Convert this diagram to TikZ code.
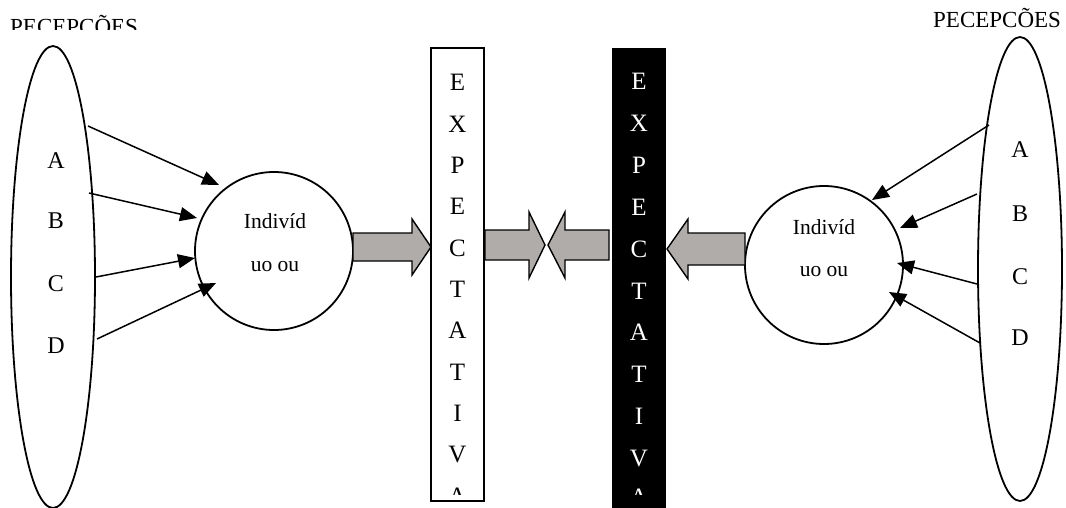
\documentclass[tikz,border=0pt]{standalone}
\usepackage{fontspec}
\setmainfont{Liberation Serif}
\usetikzlibrary{arrows.meta,calc,shapes.geometric}
\definecolor{arrgray}{RGB}{176,172,170}
\begin{document}
\begin{tikzpicture}[x=1pt,y=-1pt,
  lbl/.style={inner sep=0pt,anchor=base,font=\fontsize{24}{24}\selectfont},
  vlet/.style={inner sep=0pt,anchor=base,font=\fontsize{25}{25}\selectfont},
  ctext/.style={inner sep=0pt,anchor=base,font=\fontsize{21.5}{21.5}\selectfont},
  ttl/.style={inner sep=0pt,anchor=base west,font=\fontsize{23}{23}\selectfont},
  feed/.style={line width=1.5pt,-{Triangle[length=17pt,width=14pt]}},
  blockarr/.style={draw=black,line width=1.4pt,fill=arrgray,line join=miter},
  outl/.style={line width=1.8pt},
  oval/.style={draw,ellipse,outl,inner sep=0pt,minimum width=84pt,minimum height=462pt},
  ring/.style={draw,circle,outl,inner sep=0pt,minimum size=158pt}]
\useasboundingbox (0,0) rectangle (1066,508);
\begin{scope}
\clip (0,0) rectangle (1066,508);
% titles
\begin{scope}
\clip (0,0) rectangle (300,30);
\node[ttl] (tL) at (10,35) {PECEPCÕES};
\end{scope}
\node[ttl] (tR) at (933,28) {PECEPCÕES};
% ellipses
\node[oval] (eL) at (53,277) {};
\node[oval,minimum height=464pt] (eR) at (1020,269) {};
% letters
\node[lbl] (lA) at (56,168) {A};
\node[lbl] (lB) at (56,228) {B};
\node[lbl] (lC) at (56,291) {C};
\node[lbl] (lD) at (56,353) {D};
\node[lbl] (rA) at (1020,158) {A};
\node[lbl] (rB) at (1020,221) {B};
\node[lbl] (rC) at (1020,284) {C};
\node[lbl] (rD) at (1020,345) {D};
% circles
\node[ring] (cL) at (274,251) {};
\node[ring] (cR) at (824,265) {};
\node[ctext] (cL1) at (275,228) {Indivíd};
\node[ctext] (cL2) at (275,271) {uo ou};
\node[ctext] (cR1) at (824,234) {Indivíd};
\node[ctext] (cR2) at (824,276) {uo ou};
% feed arrows left
\coordinate (sL1) at (88,126); \coordinate (tL1) at (219,185);
\coordinate (sL2) at (89,193); \coordinate (tL2) at (197,218);
\coordinate (sL3) at (96,277); \coordinate (tL3) at (195,258);
\coordinate (sL4) at (97,339); \coordinate (tL4) at (216,283);
\foreach \i in {1,2,3,4} \draw[feed] (sL\i) -- (tL\i);
% feed arrows right
\coordinate (sR1) at (989,125); \coordinate (tR1) at (872,200);
\coordinate (sR2) at (977,194); \coordinate (tR2) at (900,228);
\coordinate (sR3) at (977,284); \coordinate (tR3) at (897,263);
\coordinate (sR4) at (980,343); \coordinate (tR4) at (889,292);
\foreach \i in {1,2,3,4} \draw[feed] (sR\i) -- (tR\i);
% boxes
\node[draw,line width=1.6pt,fill=white,inner sep=0pt,minimum width=53pt,minimum height=453pt] (bW) at (457.5,274.5) {};
\node[fill=black,inner sep=0pt,minimum width=54pt,minimum height=462pt] (bB) at (639,279) {};
\foreach \l [count=\i from 0] in {E,X,P,E,C,T,A,T,I,V}
  \node[vlet] (w\i) at (457.5,91+41.3*\i) {\l};
\foreach \l [count=\i from 0] in {E,X,P,E,C,T,A,T,I,V}
  \node[vlet,text=white] (k\i) at (639,90+41.8*\i) {\l};
\begin{scope}
\clip (432,0) rectangle (483,494);
\node[vlet] (w10) at (457.5,504) {A};
\end{scope}
\begin{scope}
\clip (613,0) rectangle (665,494);
\node[vlet,text=white] (k10) at (639,505) {A};
\end{scope}
% block arrows
\draw[blockarr] (353,233) -- (412,233) -- (412,219) -- (431,247) -- (412,275) -- (412,261) -- (353,261) -- cycle;
\draw[blockarr] (485,230) -- (529,230) -- (529,212) -- (545,245) -- (529,278) -- (529,260) -- (485,260) -- cycle;
\draw[blockarr] (609,230) -- (565,230) -- (565,212) -- (548,245) -- (565,278) -- (565,260) -- (609,260) -- cycle;
\draw[blockarr] (745,233) -- (688,233) -- (688,219) -- (667,249) -- (688,279) -- (688,265) -- (745,265) -- cycle;
\end{scope}
\end{tikzpicture}
\end{document}
